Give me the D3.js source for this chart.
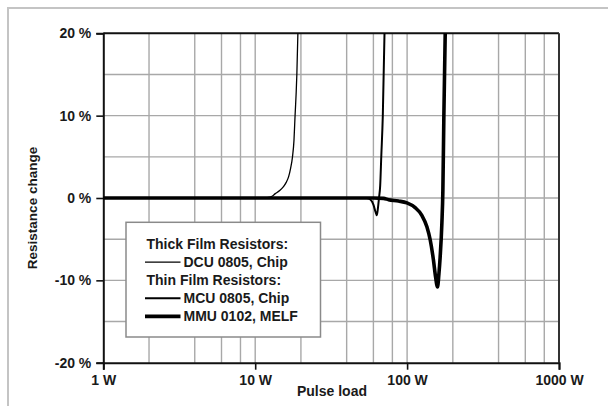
<!DOCTYPE html>
<html>
<head>
<meta charset="utf-8">
<script src="https://cdn.jsdelivr.net/npm/d3@7"></script>
<style>
  body { margin: 0; background: #fff; }
  text { font-family: "Liberation Sans", Arial, sans-serif; font-weight: bold; fill: #1a1a1a; }
</style>
</head>
<body>
<div id="chart"></div>
<script>
// axis ticks and grid
var xTicks = [1, 10, 100, 1000];
var xTickLabels = ["1 W", "10 W", "100 W", "1000 W"];
var yTicks = [20, 10, 0, -10, -20];
var yTickLabels = ["20 %", "10 %", "0 %", "-10 %", "-20 %"];
var xGrid = [2, 4, 6, 8, 10, 20, 40, 60, 80, 100, 200, 400, 600, 800];
var yGrid = [-15, -10, -5, 0, 5, 10, 15];

// DCU 0805, Chip (thick film)
var dcuLoad   = [1, 11, 12, 13, 13.5, 14.5, 15.3, 16, 16.6, 17.1, 17.6, 18, 18.3, 18.6, 18.8, 19.1];
var dcuChange = [0, 0, 0.05, 0.25, 0.5, 0.9, 1.35, 1.9, 2.6, 3.6, 5, 7, 10, 12.7, 15, 20];

// MCU 0805, Chip (thin film)
var mcuLoad   = [1, 50, 54, 57, 60, 62, 63.2, 64.3, 65.3, 66.5, 67.6, 69.2, 71];
var mcuChange = [0, 0, 0, -0.15, -0.8, -1.7, -2.1, -1.2, 0, 1.5, 5, 10, 20];

// MMU 0102, MELF (thin film)
var mmuLoad   = [1, 60, 70, 75.4, 87.7, 99.7, 113, 125, 135, 142, 149, 154, 158.5, 162, 165, 169.4, 172, 174.6, 178.2];
var mmuChange = [0, 0, -0.05, -0.2, -0.37, -0.6, -1.17, -2.1, -3.5, -5.1, -7.5, -9.6, -10.8, -9.2, -7.2, -3.1, 0.94, 10, 20];

var legendHeads = ["Thick Film Resistors:", "Thin Film Resistors:"];
var seriesNames = ["DCU 0805, Chip", "MCU 0805, Chip", "MMU 0102, MELF"];

// set the dimensions and margins of the graph
var margin = { top: 33.3, left: 103.3 },
    width = 455.7,
    height = 329.4;

var svg = d3.select("#chart")
    .append("svg")
    .attr("width", 608)
    .attr("height", 406);

// outer gray frame (only top and left visible)
svg.append("path")
    .attr("d", "M8,406 V8 H608")
    .attr("fill", "none")
    .attr("stroke", "#c4c4c4")
    .attr("stroke-width", 2);

var g = svg.append("g")
    .attr("transform", "translate(" + margin.left + "," + margin.top + ")");

var x = d3.scaleLog().domain([1, 1000]).range([0, width]);
var y = d3.scaleLinear().domain([-20, 20]).range([height, 0]);

// grid
g.append("g").selectAll("line").data(xGrid).enter().append("line")
    .attr("x1", function (d) { return x(d); })
    .attr("x2", function (d) { return x(d); })
    .attr("y1", 0).attr("y2", height)
    .attr("stroke", "#a8a8a8").attr("stroke-width", 1.4);
g.append("g").selectAll("line").data(yGrid).enter().append("line")
    .attr("x1", 0).attr("x2", width)
    .attr("y1", function (d) { return y(d); })
    .attr("y2", function (d) { return y(d); })
    .attr("stroke", "#a8a8a8").attr("stroke-width", 1.4);

// top and right border
g.append("line").attr("x1", 0).attr("x2", width).attr("y1", 0).attr("y2", 0)
    .attr("stroke", "#111").attr("stroke-width", 2);
g.append("line").attr("x1", width).attr("x2", width).attr("y1", 0).attr("y2", height)
    .attr("stroke", "#333").attr("stroke-width", 2);

// Add X axis
var xAxis = g.append("g")
    .attr("transform", "translate(0," + height + ")")
    .call(d3.axisBottom(x).tickValues(xTicks)
        .tickFormat(function (d, i) { return xTickLabels[i]; })
        .tickSize(7).tickPadding(5));
// Add Y axis
var yAxis = g.append("g")
    .call(d3.axisLeft(y).tickValues(yTicks)
        .tickFormat(function (d, i) { return yTickLabels[i]; })
        .tickSize(7).tickPadding(5));

[xAxis, yAxis].forEach(function (a) {
    a.select(".domain").attr("stroke", "#111").attr("stroke-width", 2);
    a.selectAll(".tick line").attr("stroke", "#111").attr("stroke-width", 1.6);
    a.selectAll(".tick text")
        .style("font-family", "'Liberation Sans', Arial, sans-serif")
        .style("font-weight", "bold")
        .style("font-size", "14px")
        .attr("fill", "#1a1a1a");
});
xAxis.selectAll(".tick text").attr("dy", "0.71em");

// axis titles
svg.append("text")
    .attr("x", 332).attr("y", 396)
    .attr("text-anchor", "middle")
    .style("font-size", "14px")
    .text("Pulse load");
svg.append("text")
    .attr("transform", "translate(37,208) rotate(-90)")
    .attr("text-anchor", "middle")
    .style("font-size", "13.5px")
    .text("Resistance change");

// clip for curves
svg.append("clipPath").attr("id", "plotclip")
    .append("rect").attr("x", 0).attr("y", -1).attr("width", width).attr("height", height + 2);

var line = d3.line()
    .x(function (d) { return x(d[0]); })
    .y(function (d) { return y(d[1]); })
    .curve(d3.curveMonotoneX);

var curves = g.append("g").attr("clip-path", "url(#plotclip)");
var series = [
    { load: mmuLoad, change: mmuChange, w: 3.6 },
    { load: mcuLoad, change: mcuChange, w: 2 },
    { load: dcuLoad, change: dcuChange, w: 1.3 }
];
series.forEach(function (s) {
    curves.append("path")
        .datum(d3.zip(s.load, s.change))
        .attr("fill", "none")
        .attr("stroke", "#000")
        .attr("stroke-width", s.w)
        .attr("stroke-linejoin", "round")
        .attr("d", line);
});

// legend
var legend = svg.append("g");
legend.append("rect")
    .attr("x", 126).attr("y", 222.3)
    .attr("width", 194.5).attr("height", 114.7)
    .attr("fill", "#fff")
    .attr("stroke", "#8a8a8a").attr("stroke-width", 1.5);

var rows = [
    { head: legendHeads[0] },
    { name: seriesNames[0], w: 1.3 },
    { head: legendHeads[1] },
    { name: seriesNames[1], w: 2 },
    { name: seriesNames[2], w: 3.8 }
];
rows.forEach(function (r, i) {
    var by = 249 + i * 18.1;
    if (r.head) {
        legend.append("text").attr("x", 146.5).attr("y", by)
            .style("font-size", "14px").text(r.head);
    } else {
        legend.append("line")
            .attr("x1", 145).attr("x2", 180.5)
            .attr("y1", by - 5).attr("y2", by - 5)
            .attr("stroke", "#000").attr("stroke-width", r.w);
        legend.append("text").attr("x", 183.5).attr("y", by)
            .style("font-size", "14px").text(r.name);
    }
});
</script>
</body>
</html>
